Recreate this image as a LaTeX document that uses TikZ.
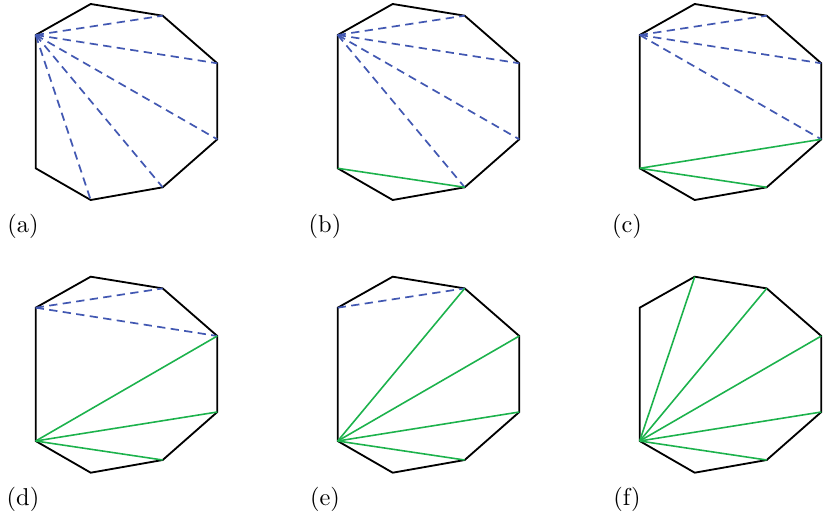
\documentclass[tikz,border=0pt]{standalone}
\usepackage{tikz}
\usetikzlibrary{calc}

\definecolor{diagblue}{RGB}{66,88,178}
\definecolor{diaggreen}{RGB}{28,178,76}

\tikzset{
  poly/.style={black, line width=0.75pt, line join=miter},
  open/.style={diagblue, line width=0.7pt, dash pattern=on 3.4pt off 2.2pt},
  done/.style={diaggreen, line width=0.65pt}
}

\begin{document}
\begin{tikzpicture}[x=0.41pt, y=-0.41pt]
\useasboundingbox (0,0) rectangle (830,516);
% six copies of the same octagon
\foreach \p/\dx/\dy in {a/0/0, b/302/0, c/604/0, d/0/272.7, e/302/272.7, f/604/272.7} {
  \foreach \i/\x/\y in {1/35.7/35, 2/90.7/4, 3/162.7/15.7, 4/217.3/63.3, 5/217.3/139.3, 6/162.7/187.3, 7/90.7/200, 8/35.7/168.3}
    \coordinate (\p\i) at ({\x+\dx},{\y+\dy});
  \draw[poly] (\p1) -- (\p2) -- (\p3) -- (\p4) -- (\p5) -- (\p6) -- (\p7) -- (\p8) -- cycle;
  \node (lab\p) at ({23+\dx},{226.5+\dy}) {(\p)};
}
% (a)
\foreach \j in {3,...,7} \draw[open] (a1) -- (a\j);
% (b)
\foreach \j in {3,...,6} \draw[open] (b1) -- (b\j);
\draw[done] (b8) -- (b6);
% (c)
\foreach \j in {3,4,5} \draw[open] (c1) -- (c\j);
\foreach \j in {5,6} \draw[done] (c8) -- (c\j);
% (d)
\foreach \j in {3,4} \draw[open] (d1) -- (d\j);
\foreach \j in {4,5,6} \draw[done] (d8) -- (d\j);
% (e)
\draw[open] (e1) -- (e3);
\foreach \j in {3,...,6} \draw[done] (e8) -- (e\j);
% (f)
\foreach \j in {2,...,6} \draw[done] (f8) -- (f\j);
\end{tikzpicture}
\end{document}
